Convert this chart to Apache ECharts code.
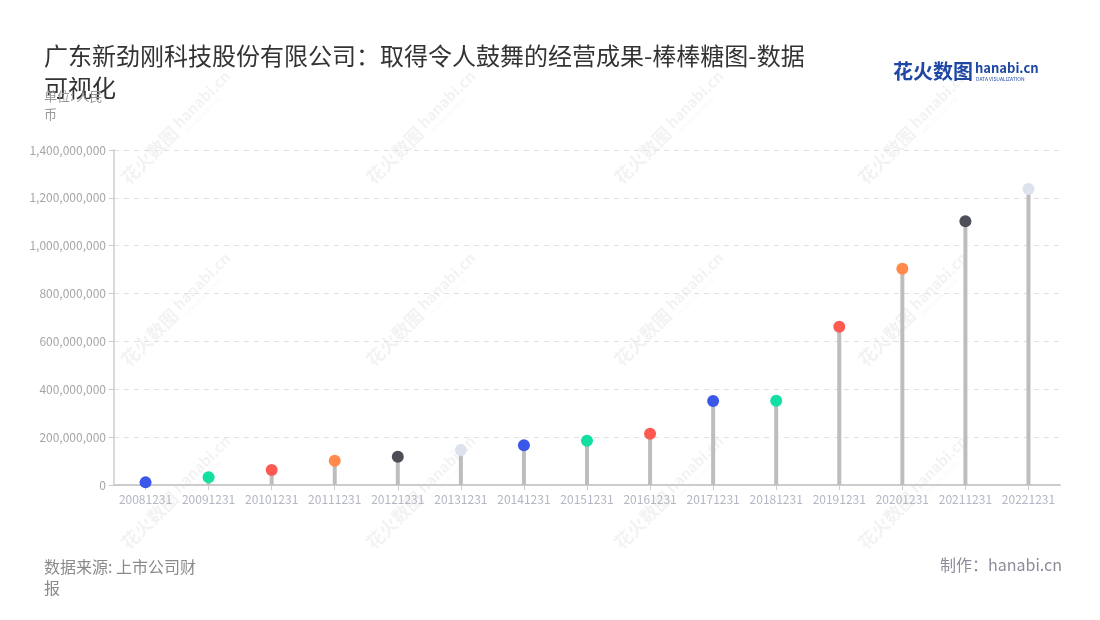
<!DOCTYPE html>
<html>
<head>
<meta charset="utf-8">
<script src="https://cdn.jsdelivr.net/npm/echarts@6/dist/echarts.min.js"></script>
<style>
html,body{margin:0;padding:0;background:#fff;}
#main{width:1100px;height:620px;}
</style>
</head>
<body>
<div id="main"></div>
<script>
const categories = ['20081231','20091231','20101231','20111231','20121231','20131231','20141231','20151231','20161231','20171231','20181231','20191231','20201231','20211231','20221231'];
const values = [11000000, 32000000, 63000000, 101000000, 118000000, 146000000, 166000000, 185000000, 214000000, 351000000, 352000000, 661000000, 904000000, 1102000000, 1237000000];
const dotColors = ['#3A57EA', '#12DFA1', '#FF5A52', '#FF8A4C', '#4E4E58', '#DDE2EE', '#3A57EA', '#12DFA1', '#FF5A52'];
const titleText = '广东新劲刚科技股份有限公司：取得令人鼓舞的经营成果-棒棒糖图-数据\n可视化';
const unitText = '单位: 人民\n币';
const sourceText = '数据来源: 上市公司财\n报';
const makerText = '制作：hanabi.cn';

const font = '"Noto Sans CJK SC", "Noto Sans", sans-serif';
const chart = echarts.init(document.getElementById('main'));

const wmCols = [175, 420, 668, 912];
const wmRows = [130, 312, 495];
const watermarks = [];
wmCols.forEach(function (cx) {
  wmRows.forEach(function (cy) {
    watermarks.push({
      type: 'group',
      x: cx, y: cy,
      rotation: Math.PI / 4,
      z: 100,
      silent: true,
      children: [
        { type: 'text', x: -72, y: 0, style: { text: '花火数图', fill: 'rgba(0,0,0,0.05)', font: 'bold 18px ' + font, verticalAlign: 'middle' } },
        { type: 'text', x: 4, y: -3, style: { text: 'hanabi.cn', fill: 'rgba(0,0,0,0.05)', font: 'bold 15px ' + font, verticalAlign: 'middle' } },
        { type: 'text', x: 6, y: 9, style: { text: 'DATA VISUALIZATION', fill: 'rgba(0,0,0,0.045)', font: '5px ' + font, verticalAlign: 'middle' } }
      ]
    });
  });
});

const option = {
  backgroundColor: '#fff',
  animation: false,
  textStyle: { fontFamily: font },
  grid: { left: 114, right: 40, top: 150, bottom: 135 },
  xAxis: {
    type: 'category',
    data: categories,
    axisLine: { lineStyle: { color: '#cccccc', width: 2 } },
    axisTick: { show: true, alignWithLabel: true, length: 5, lineStyle: { color: '#cccccc' } },
    axisLabel: { color: '#b3b6c3', fontSize: 12, margin: 8, interval: 0 }
  },
  yAxis: {
    type: 'value',
    min: 0, max: 1400000000, interval: 200000000,
    axisLine: { show: true, lineStyle: { color: '#cccccc', width: 1.5 } },
    axisTick: { show: true, length: 5, lineStyle: { color: '#cccccc' } },
    axisLabel: { color: '#a6a6a6', fontSize: 12, margin: 8, formatter: function (v) { return v.toLocaleString('en-US'); } },
    splitLine: { lineStyle: { color: '#e0e0e0', type: [5, 5] } }
  },
  series: [
    {
      type: 'bar',
      data: values,
      barWidth: 4,
      itemStyle: { color: '#bdbdbd' },
      z: 2
    },
    {
      type: 'scatter',
      data: values,
      symbol: 'circle',
      symbolSize: 12,
      itemStyle: { color: function (p) { return dotColors[p.dataIndex % dotColors.length]; }, opacity: 1 },
      z: 3
    }
  ],
  graphic: [
    { type: 'text', left: 44, top: 40, style: { text: titleText, fill: '#333333', font: '24px ' + font, lineHeight: 32 } },
    { type: 'text', left: 44, top: 87, style: { text: unitText, fill: '#999999', font: '13px ' + font, lineHeight: 18 } },
    { type: 'text', left: 44, top: 556, style: { text: sourceText, fill: '#8a8a8a', font: '16px ' + font, lineHeight: 21 } },
    { type: 'text', right: 38, top: 557, style: { text: makerText, fill: '#8c8c9a', font: '16px ' + font } },
    { type: 'text', left: 893, top: 61, style: { text: '花火数图', fill: '#1f48a6', font: 'bold 20px ' + font } },
    { type: 'text', left: 975, top: 62, style: { text: 'hanabi.cn', fill: '#1f48a6', font: 'bold 13px ' + font } },
    { type: 'text', left: 976, top: 77, style: { text: 'DATA VISUALIZATION', fill: '#1f48a6', font: '5px ' + font } }
  ].concat(watermarks)
};
chart.setOption(option);
</script>
</body>
</html>
